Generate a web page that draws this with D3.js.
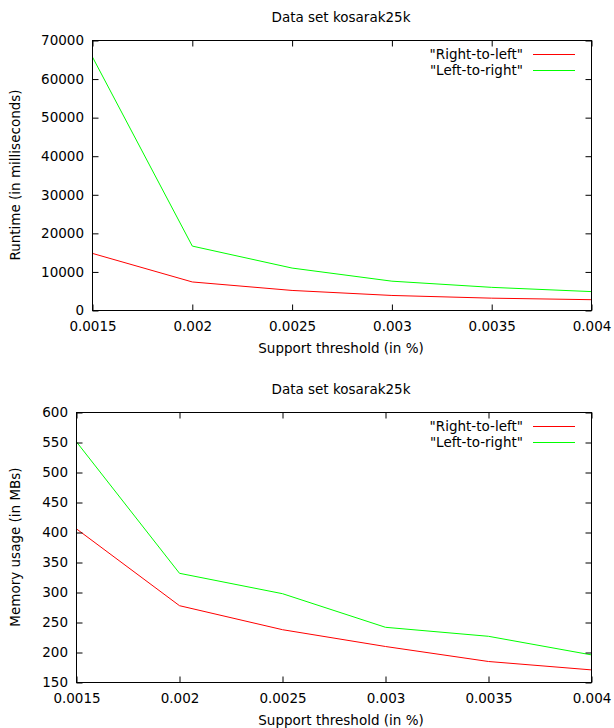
<!DOCTYPE html>
<html>
<head>
<meta charset="utf-8">
<script src="https://cdn.jsdelivr.net/npm/d3@7/dist/d3.min.js"></script>
<style>
  body { margin: 0; background: #fff; }
  svg text { font-family: "DejaVu Sans", sans-serif; font-size: 13.5px; fill: #000; }
</style>
</head>
<body>
<svg id="chart" width="614" height="728"></svg>
<script>
// Support thresholds (in %) shared by both panels
const supports = [0.0015, 0.002, 0.0025, 0.003, 0.0035, 0.004];

// Runtime in milliseconds
const runtimeRightToLeft = [14800, 7400, 5200, 3900, 3200, 2800];
const runtimeLeftToRight = [65700, 16700, 11000, 7600, 6000, 4900];

// Memory usage in MBs
const memoryRightToLeft = [406, 278, 238, 210, 185, 171];
const memoryLeftToRight = [551, 332, 298, 242, 227, 196];

// Tick values
const runtimeTicks = [0, 10000, 20000, 30000, 40000, 50000, 60000, 70000];
const memoryTicks = [150, 200, 250, 300, 350, 400, 450, 500, 550, 600];

const seriesNames = ['"Right-to-left"', '"Left-to-right"'];
const seriesColors = ["#ff0000", "#00ff00"];
const datasetTitle = "Data set kosarak25k";
const xTitle = "Support threshold (in %)";

const svg = d3.select("#chart");
const plain = d => String(d);

function drawPanel(cfg) {
  const g = svg.append("g");
  const x = d3.scaleLinear()
    .domain([supports[0], supports[supports.length - 1]])
    .range([cfg.left + 0.5, cfg.right + 0.5]);
  const y = d3.scaleLinear()
    .domain([cfg.yTicks[0], cfg.yTicks[cfg.yTicks.length - 1]])
    .range([cfg.bottom + 0.5, cfg.top + 0.5]);

  // Plot lines
  const line = d3.line().x((d, i) => x(supports[i])).y(d => y(d));
  cfg.series.forEach((vals, k) => {
    g.append("path")
      .datum(vals)
      .attr("d", line)
      .attr("fill", "none")
      .attr("stroke", seriesColors[k])
      .attr("stroke-width", 1);
  });

  // Axes with inward ticks on all four sides
  const axL = g.append("g").attr("transform", `translate(${x.range()[0]},0)`)
    .call(d3.axisLeft(y).tickValues(cfg.yTicks).tickSizeInner(-6).tickSizeOuter(0).tickPadding(8.5).tickFormat(plain));
  const axR = g.append("g").attr("transform", `translate(${x.range()[1]},0)`)
    .call(d3.axisRight(y).tickValues(cfg.yTicks).tickSizeInner(-6).tickSizeOuter(0).tickFormat(""));
  const axB = g.append("g").attr("transform", `translate(0,${y.range()[0]})`)
    .call(d3.axisBottom(x).tickValues(supports).tickSizeInner(-6).tickSizeOuter(0).tickPadding(10.5).tickFormat(plain));
  const axT = g.append("g").attr("transform", `translate(0,${y.range()[1]})`)
    .call(d3.axisTop(x).tickValues(supports).tickSizeInner(-6).tickSizeOuter(0).tickFormat(""));
  [axL, axR, axB, axT].forEach(a => {
    a.attr("font-family", null).attr("font-size", null);
    a.select(".domain").remove();
    a.selectAll("line").attr("stroke", "#000").attr("stroke-width", 1);
    a.selectAll("text").attr("fill", "#000");
  });

  // Border
  g.append("rect")
    .attr("x", x.range()[0]).attr("y", y.range()[1])
    .attr("width", x.range()[1] - x.range()[0])
    .attr("height", y.range()[0] - y.range()[1])
    .attr("fill", "none").attr("stroke", "#000").attr("stroke-width", 1);

  // Legend (top right, inside)
  seriesNames.forEach((name, k) => {
    const ly = cfg.top + 14.5 + k * 16;
    g.append("text")
      .attr("x", 523).attr("y", ly).attr("dy", "0.35em")
      .attr("text-anchor", "end").text(name);
    g.append("line")
      .attr("x1", 533).attr("x2", 575)
      .attr("y1", ly).attr("y2", ly)
      .attr("stroke", seriesColors[k]).attr("stroke-width", 1);
  });

  // Titles
  g.append("text").attr("x", 341).attr("y", cfg.top - 18)
    .attr("text-anchor", "middle").text(datasetTitle);
  g.append("text").attr("x", 341).attr("y", cfg.bottom + 43)
    .attr("text-anchor", "middle").text(xTitle);
  const my = (cfg.top + cfg.bottom) / 2;
  g.append("text")
    .attr("transform", `translate(15,${my}) rotate(-90)`)
    .attr("dy", "0.35em")
    .attr("text-anchor", "middle").text(cfg.yTitle);
}

drawPanel({
  left: 92, right: 591, top: 40, bottom: 310,
  yTicks: runtimeTicks,
  series: [runtimeRightToLeft, runtimeLeftToRight],
  yTitle: "Runtime (in milliseconds)"
});

drawPanel({
  left: 76, right: 591, top: 412, bottom: 682,
  yTicks: memoryTicks,
  series: [memoryRightToLeft, memoryLeftToRight],
  yTitle: "Memory usage (in MBs)"
});
</script>
</body>
</html>
